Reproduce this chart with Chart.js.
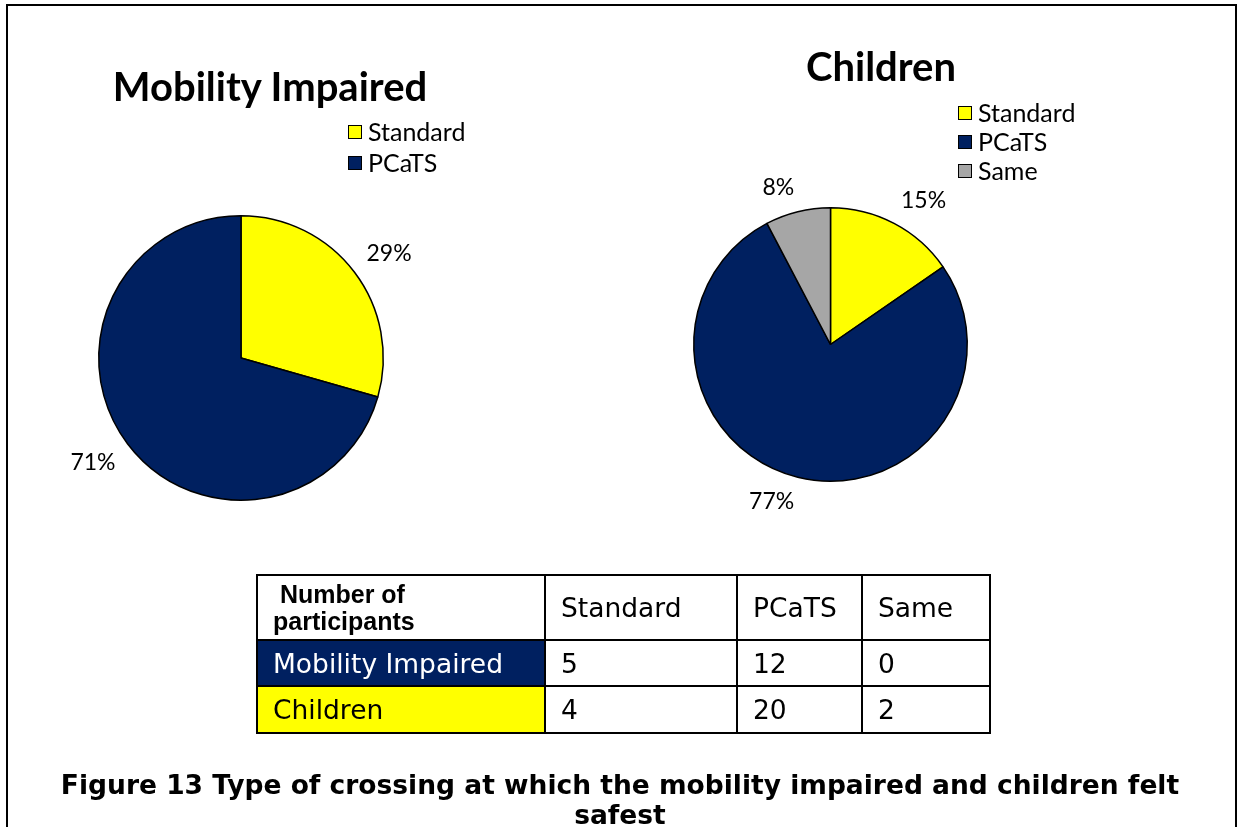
<!DOCTYPE html>
<html>
<head>
<meta charset="utf-8">
<script src="https://cdn.jsdelivr.net/npm/chart.js@4.4.1/dist/chart.umd.min.js"></script>
<style>
  html, body { margin:0; padding:0; background:#fff; }
  body { width:1240px; height:827px; position:relative; overflow:hidden; }
  #frame { position:absolute; left:6px; top:4px; width:1227px; height:900px;
           border-top:2px solid #000; border-left:2px solid #000; border-right:2px solid #000; }
  canvas.pie { position:absolute; left:0; top:0; }
  .title { position:absolute; font-family:Lato, sans-serif; font-weight:bold; color:#000;
           white-space:nowrap; transform:translate(-50%,-50%); line-height:1; }
  .legend { position:absolute; font-family:Lato, sans-serif; font-size:25px; color:#000; }
  .legend .item { position:absolute; left:0; white-space:nowrap; height:30px; line-height:30px; }
  .legend .box { position:absolute; left:0; top:9px; width:12px; height:12px; border:1px solid #000; }
  .legend .txt { position:absolute; left:20px; top:0; }
  table.data { position:absolute; left:256px; top:574px; border-collapse:collapse;
               font-family:"DejaVu Sans", Verdana, sans-serif; font-size:26.5px; color:#000; }
  table.data td { border:2px solid #000; padding:0 0 0 15px; vertical-align:middle; text-align:left; white-space:nowrap; }
  table.data td.hdr { font-family:"Liberation Sans", Arial, sans-serif; font-weight:bold; font-size:25px;
                      line-height:27px; padding-left:15px; white-space:normal; }
  table.data td.hdr span { display:block; width:165px; }
  #caption { position:absolute; left:0; width:1240px; top:770px; text-align:center;
             font-family:"DejaVu Sans", Verdana, sans-serif; font-weight:bold; font-size:26.5px;
             line-height:30px; color:#000; }
</style>
</head>
<body>
<div id="frame"></div>
<canvas id="pieMobility" class="pie" width="1240" height="827"></canvas>
<canvas id="pieChildren" class="pie" width="1240" height="827"></canvas>
<div id="titleMobility" class="title" style="left:270px; top:86px; font-size:40px;"></div>
<div id="titleChildren" class="title" style="left:881px; top:66px; font-size:40px;"></div>
<div id="legendMobility" class="legend" style="left:348px; top:116px;"></div>
<div id="legendChildren" class="legend" style="left:958px; top:97px;"></div>
<table class="data" id="dataTable"></table>
<div id="caption"></div>

<script>
// ---- Data ----
const categories = ['Standard', 'PCaTS', 'Same'];
const categoryColors = ['#FFFF00', '#002060', '#A6A6A6'];
const groups = ['Mobility Impaired', 'Children'];
const mobilityCounts = [5, 12, 0];
const childrenCounts = [4, 20, 2];
const tableCornerLabel = 'Number of participants';
const captionLines = ['Figure 13 Type of crossing at which the mobility impaired and children felt', 'safest'];

// ---- Percent label plugin (outside end) ----
const outsideLabels = {
  id: 'outsideLabels',
  afterDatasetsDraw(chart) {
    const ctx = chart.ctx;
    const ds = chart.data.datasets[0];
    const total = ds.data.reduce((a, b) => a + b, 0);
    const meta = chart.getDatasetMeta(0);
    ctx.save();
    ctx.font = '23px Lato, sans-serif';
    ctx.fillStyle = '#000';
    ctx.textAlign = 'center';
    ctx.textBaseline = 'middle';
    meta.data.forEach((arc, i) => {
      const p = arc.getProps(['x', 'y', 'startAngle', 'endAngle', 'outerRadius'], true);
      const mid = (p.startAngle + p.endAngle) / 2;
      const text = Math.round(ds.data[i] / total * 100) + '%';
      const halfW = ctx.measureText(text).width / 2;
      const halfH = 10;
      const c = Math.cos(mid), s = Math.sin(mid);
      const d = p.outerRadius + 15;
      ctx.fillText(text, p.x + c * d + Math.sign(c) * halfW, p.y + s * d + Math.sign(s) * halfH);
    });
    ctx.restore();
  }
};

function makePie(id, counts, padding) {
  const labels = [], values = [], colors = [];
  counts.forEach((v, i) => {
    if (v > 0) { labels.push(categories[i]); values.push(v); colors.push(categoryColors[i]); }
  });
  new Chart(document.getElementById(id), {
    type: 'pie',
    data: { labels, datasets: [{ data: values, backgroundColor: colors, borderColor: '#000', borderWidth: 1.5 }] },
    options: {
      responsive: false, animation: false, events: [],
      layout: { padding },
      plugins: { legend: { display: false }, tooltip: { enabled: false }, title: { display: false } }
    },
    plugins: [outsideLabels]
  });
  return labels.map((l, i) => ({ label: l, color: colors[i] }));
}

function buildLegend(id, items, spacing) {
  const el = document.getElementById(id);
  items.forEach((it, i) => {
    const d = document.createElement('div');
    d.className = 'item';
    d.style.top = (i * spacing) + 'px';
    d.innerHTML = '<span class="box" style="background:' + it.color + '"></span><span class="txt"></span>';
    d.querySelector('.txt').textContent = it.label;
    el.appendChild(d);
  });
}

const mobItems = makePie('pieMobility', mobilityCounts, { left: 98, top: 215, right: 856, bottom: 326 });
const chiItems = makePie('pieChildren', childrenCounts, { left: 693, top: 207, right: 272, bottom: 345 });
buildLegend('legendMobility', mobItems, 31);
buildLegend('legendChildren', chiItems, 29);

document.getElementById('titleMobility').textContent = groups[0];
document.getElementById('titleChildren').textContent = groups[1];

// ---- Table ----
const table = document.getElementById('dataTable');
const colWidths = [288, 192, 125, 128];
const rowHeights = [65, 46, 47];
const hdr = table.insertRow();
hdr.style.height = rowHeights[0] + 'px';
const c0 = hdr.insertCell(); c0.className = 'hdr';
const sp = document.createElement('span'); sp.textContent = '\u00a0' + tableCornerLabel; c0.appendChild(sp);
c0.style.width = (colWidths[0] - 17) + 'px';
categories.forEach((c, i) => { const td = hdr.insertCell(); td.textContent = c; td.style.width = (colWidths[i + 1] - 17) + 'px'; });
[[groups[0], mobilityCounts, '#002060', '#fff'], [groups[1], childrenCounts, '#FFFF00', '#000']].forEach((r, ri) => {
  const tr = table.insertRow();
  tr.style.height = rowHeights[ri + 1] + 'px';
  const th = tr.insertCell(); th.textContent = r[0]; th.style.background = r[2]; th.style.color = r[3];
  r[1].forEach(v => { const td = tr.insertCell(); td.textContent = v; });
});

// ---- Caption ----
document.getElementById('caption').innerHTML = captionLines.map(l => l.replace(/&/g, '&amp;')).join('<br>');
</script>
</body>
</html>
